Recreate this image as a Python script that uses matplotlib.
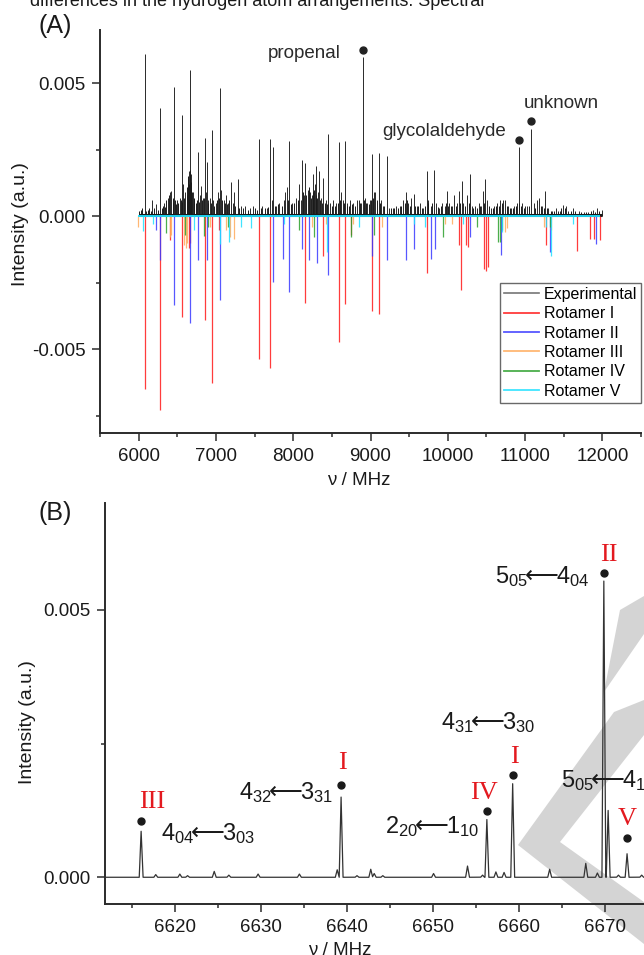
import numpy as np
import matplotlib
matplotlib.use('Agg')
import matplotlib.pyplot as plt
from matplotlib.lines import Line2D
from matplotlib.patches import Polygon
from matplotlib.ticker import MultipleLocator, FixedLocator

plt.rcParams['font.family'] = ['Liberation Sans', 'DejaVu Sans']
plt.rcParams['mathtext.fontset'] = 'custom'
plt.rcParams['mathtext.rm'] = 'Liberation Sans'
plt.rcParams['mathtext.it'] = 'Liberation Sans:italic'
plt.rcParams['mathtext.bf'] = 'Liberation Sans:bold'
plt.rcParams['mathtext.sf'] = 'DejaVu Sans'
plt.rcParams['axes.unicode_minus'] = False

# ---------------- Panel A data ----------------
exp_freq = [6078, 6177, 6229, 6280, 6330, 6380, 6410, 6425, 6461, 6500, 6530, 6556, 6574, 6600,
            6620, 6640, 6650, 6660, 6668, 6680, 6700, 6720, 6771, 6790, 6806, 6830, 6858, 6870,
            6884, 6900, 6920, 6944, 6960, 7000, 7030, 7056, 7070, 7100, 7133, 7160, 7193, 7215,
            7236, 7284, 7320, 7380, 7440, 7480, 7559, 7600, 7660, 7701, 7720, 7744, 7780, 7820,
            7880, 7900, 7917, 7951, 7990, 8040, 8080, 8100, 8115, 8140, 8158, 8190, 8215, 8240,
            8261, 8280, 8300, 8320, 8331, 8360, 8390, 8420, 8451, 8480, 8520, 8560, 8597, 8620,
            8640, 8674, 8700, 8740, 8780, 8820, 8850, 8880, 8907, 8930, 8960, 8990, 9015, 9040,
            9060, 9106, 9130, 9160, 9213, 9240, 9290, 9335, 9380, 9420, 9455, 9490, 9530, 9558,
            9600, 9635, 9680, 9726, 9750, 9780, 9824, 9850, 9880, 9930, 9960, 9988, 10020, 10060,
            10083, 10120, 10143, 10178, 10200, 10246, 10285, 10310, 10350, 10400, 10430, 10454,
            10484, 10510, 10560, 10600, 10640, 10680, 10720, 10746, 10780, 10820, 10860, 10900,
            10927, 10960, 11000, 11030, 11082, 11110, 11150, 11177, 11220, 11263, 11300, 11350,
            11400, 11450, 11496, 11530, 11560, 11620, 11700, 11760, 11820, 11880, 11930, 11990]
exp_int = [0.00608, 0.00060, 0.00045, 0.00408, 0.00050, 0.00070, 0.00091, 0.00095, 0.00485, 0.00060,
           0.00070, 0.00379, 0.00120, 0.00090, 0.00080, 0.00140, 0.00170, 0.00175, 0.00548, 0.00160,
           0.00090, 0.00060, 0.00241, 0.00080, 0.00114, 0.00070, 0.00295, 0.00090, 0.00202, 0.00060,
           0.00070, 0.00325, 0.00060, 0.00050, 0.00090, 0.00481, 0.00100, 0.00060, 0.00080, 0.00050,
           0.00129, 0.00050, 0.00090, 0.00140, 0.00040, 0.00040, 0.00030, 0.00040, 0.00291, 0.00040,
           0.00030, 0.00291, 0.00060, 0.00262, 0.00040, 0.00050, 0.00060, 0.00090, 0.00110, 0.00283,
           0.00050, 0.00070, 0.00120, 0.00060, 0.00213, 0.00080, 0.00201, 0.00100, 0.00090, 0.00080,
           0.00160, 0.00120, 0.00188, 0.00090, 0.00170, 0.00070, 0.00145, 0.00060, 0.00310, 0.00050,
           0.00060, 0.00050, 0.00279, 0.00090, 0.00060, 0.00281, 0.00050, 0.00060, 0.00050, 0.00060,
           0.00060, 0.00050, 0.00598, 0.00070, 0.00050, 0.00060, 0.00235, 0.00090, 0.00090, 0.00238,
           0.00060, 0.00040, 0.00228, 0.00030, 0.00030, 0.00040, 0.00040, 0.00060, 0.00090, 0.00050,
           0.00070, 0.00083, 0.00040, 0.00050, 0.00030, 0.00169, 0.00060, 0.00040, 0.00175, 0.00050,
           0.00030, 0.00050, 0.00040, 0.00095, 0.00050, 0.00040, 0.00080, 0.00050, 0.00095, 0.00133,
           0.00050, 0.00080, 0.00158, 0.00040, 0.00040, 0.00050, 0.00040, 0.00095, 0.00139, 0.00060,
           0.00030, 0.00040, 0.00050, 0.00060, 0.00060, 0.00060, 0.00040, 0.00030, 0.00040, 0.00050,
           0.00262, 0.00050, 0.00040, 0.00040, 0.00329, 0.00050, 0.00060, 0.00068, 0.00040, 0.00095,
           0.00030, 0.00020, 0.00030, 0.00020, 0.00044, 0.00040, 0.00020, 0.00030, 0.00020, 0.00015,
           0.00015, 0.00025, 0.00030, 0.00025]

exp_small_freq = [6010, 6030, 6045, 6100, 6120, 6140, 6160, 6200, 6250, 6300, 6315, 6345, 6360, 6395,
                  6440, 6450, 6470, 6485, 6515, 6545, 6565, 6585, 6630, 6645, 6655, 6675, 6690, 6710,
                  6740, 6760, 6780, 6815, 6845, 6895, 6930, 6975, 7015, 7045, 7080, 7115, 7145, 7175,
                  7250, 7300, 7350, 7410, 7500, 7530, 7580, 7630, 7680, 7760, 7800, 7850, 7930, 7970,
                  8010, 8060, 8130, 8170, 8200, 8230, 8250, 8270, 8290, 8310, 8345, 8370, 8405, 8440,
                  8500, 8540, 8580, 8610, 8655, 8690, 8720, 8760, 8800, 8870, 8920, 8945, 8975, 9000,
                  9030, 9080, 9120, 9180, 9260, 9310, 9360, 9400, 9440, 9470, 9510, 9580, 9620, 9660,
                  9700, 9740, 9800, 9870, 9910, 9975, 10000, 10040, 10100, 10160, 10220, 10270, 10330,
                  10380, 10420, 10470, 10530, 10580, 10620, 10660, 10700, 10760, 10800, 10840, 10880,
                  10915, 10945, 10980, 11050, 11130, 11200, 11240, 11280, 11330, 11380, 11430, 11470,
                  11520, 11600, 11650, 11730, 11790, 11850, 11910, 11960]
exp_small_int = [0.00020, 0.00025, 0.00030, 0.00020, 0.00025, 0.00030, 0.00020, 0.00030, 0.00025,
                 0.00030, 0.00040, 0.00035, 0.00060, 0.00080, 0.00050, 0.00070, 0.00060, 0.00045,
                 0.00050, 0.00060, 0.00055, 0.00070, 0.00110, 0.00150, 0.00120, 0.00130, 0.00090,
                 0.00070, 0.00050, 0.00060, 0.00055, 0.00060, 0.00070, 0.00050, 0.00050, 0.00040,
                 0.00060, 0.00070, 0.00060, 0.00050, 0.00045, 0.00060, 0.00040, 0.00030, 0.00030,
                 0.00025, 0.00030, 0.00025, 0.00030, 0.00030, 0.00035, 0.00040, 0.00045, 0.00040,
                 0.00060, 0.00045, 0.00050, 0.00060, 0.00090, 0.00080, 0.00110, 0.00070, 0.00090,
                 0.00100, 0.00080, 0.00070, 0.00060, 0.00050, 0.00050, 0.00045, 0.00040, 0.00040,
                 0.00050, 0.00060, 0.00050, 0.00040, 0.00040, 0.00045, 0.00040, 0.00050, 0.00060,
                 0.00050, 0.00045, 0.00060, 0.00070, 0.00060, 0.00050, 0.00040, 0.00030, 0.00030,
                 0.00030, 0.00040, 0.00050, 0.00060, 0.00040, 0.00040, 0.00040, 0.00030, 0.00040,
                 0.00050, 0.00050, 0.00035, 0.00040, 0.00050, 0.00040, 0.00040, 0.00040, 0.00050,
                 0.00040, 0.00050, 0.00030, 0.00030, 0.00040, 0.00050, 0.00040, 0.00030, 0.00040,
                 0.00040, 0.00050, 0.00040, 0.00030, 0.00030, 0.00040, 0.00050, 0.00040, 0.00030,
                 0.00040, 0.00030, 0.00040, 0.00030, 0.00030, 0.00020, 0.00020, 0.00020, 0.00030,
                 0.00030, 0.00020, 0.00020, 0.00015, 0.00015, 0.00020, 0.00015, 0.00020]

rot1_freq = [6078, 6280, 6401, 6556, 6651, 6670, 6858, 6944, 7040, 7555, 7701, 8149, 8382, 8589,
             8674, 8752, 9019, 9106, 9726, 10149, 10174, 10230, 10265, 10472, 10500, 10525, 11268,
             11673, 11837, 11890, 11974]
rot1_int = [-0.00648, -0.00729, -0.00090, -0.00379, -0.00120, -0.00100, -0.00389, -0.00627, -0.00050,
            -0.00537, -0.00572, -0.00327, -0.00150, -0.00472, -0.00331, -0.00070, -0.00356, -0.00366,
            -0.00214, -0.00110, -0.00276, -0.00110, -0.00116, -0.00197, -0.00205, -0.00190, -0.00110,
            -0.00131, -0.00085, -0.00085, -0.00088]

rot2_freq = [6229, 6280, 6461, 6668, 6771, 6884, 7056, 7744, 7873, 7951, 8115, 8201, 8308, 8451,
             9015, 9209, 9459, 9562, 9786, 9829, 10285, 10690, 11320, 11914]
rot2_int = [-0.00050, -0.00166, -0.00333, -0.00401, -0.00166, -0.00166, -0.00316, -0.00248, -0.00161,
            -0.00285, -0.00123, -0.00166, -0.00176, -0.00220, -0.00151, -0.00166, -0.00166, -0.00124,
            -0.00161, -0.00125, -0.00080, -0.00145, -0.00135, -0.00105]

rot3_freq = [5996, 6400, 6420, 6590, 6610, 6620, 6920, 7124, 7185, 7236, 8240, 8420, 8780, 9150,
             9960, 10050, 10739, 10760, 11250, 11330]
rot3_int = [-0.00041, -0.00080, -0.00070, -0.00110, -0.00120, -0.00100, -0.00040, -0.00050, -0.00080,
            -0.00085, -0.00040, -0.00030, -0.00030, -0.00040, -0.00030, -0.00030, -0.00060, -0.00045,
            -0.00040, -0.00050]

rot4_freq = [6358, 6600, 6849, 6900, 7150, 8072, 8273, 8752, 9045, 9941, 10380, 10648, 10674, 10700,
             11320]
rot4_int = [-0.00064, -0.00070, -0.00075, -0.00040, -0.00040, -0.00050, -0.00080, -0.00080, -0.00070,
            -0.00078, -0.00040, -0.00098, -0.00098, -0.00050, -0.00040]

rot5_freq = [6057, 6180, 6720, 7047, 7168, 7330, 7460, 7880, 8434, 8850, 9560, 9700, 10200, 10700,
             11270, 11330, 11620]
rot5_int = [-0.00054, -0.00030, -0.00050, -0.00105, -0.00098, -0.00040, -0.00045, -0.00030, -0.00135,
            -0.00040, -0.00030, -0.00040, -0.00030, -0.00060, -0.00040, -0.00150, -0.00030]

series_names = ['Experimental', 'Rotamer I', 'Rotamer II', 'Rotamer III', 'Rotamer IV', 'Rotamer V']
series_colors = ['#1a1a1a', '#ff1a1a', '#3a3aff', '#ffab5c', '#2ca02c', '#1fe0ff']

annA_names = ['propenal', 'glycolaldehyde', 'unknown']
annA_dot_x = [8907, 10923, 11083]
annA_dot_y = [0.00626, 0.00288, 0.00359]
annA_txt_x = [8615, 10751, 11470]
annA_txt_y = [0.00596, 0.00300, 0.00405]
annA_txt_ha = ['right', 'right', 'center']

# ---------------- Panel B data ----------------
b_peak_freq = [6616.1, 6617.8, 6620.6, 6621.5, 6624.6, 6626.3, 6629.7, 6634.5, 6638.9, 6639.35,
               6641.2, 6642.8, 6643.2, 6644.2, 6650.1, 6654.05, 6655.8, 6656.3, 6657.35, 6658.3,
               6659.3, 6663.6, 6667.8, 6669.15, 6669.9, 6670.4, 6671.6, 6672.6, 6674.3]
b_peak_int = [0.00086, 0.00005, 0.00006, 0.00003, 0.00011, 0.00004, 0.00006, 0.00006, 0.00014,
              0.00150, 0.00003, 0.00015, 0.00007, 0.00003, 0.00007, 0.00021, 0.00004, 0.00108,
              0.00010, 0.00009, 0.00175, 0.00015, 0.00026, 0.00008, 0.00554, 0.00125, 0.00004,
              0.00044, 0.00004]

b_rot_labels = ['III', 'I', 'IV', 'I', 'II', 'V']
b_rot_x = [6617.36, 6639.5, 6656.0, 6659.5, 6670.5, 6672.6]
b_rot_y = [0.00129, 0.00203, 0.00147, 0.00213, 0.00592, 0.00097]
b_dot_x = [6616.1, 6639.35, 6656.3, 6659.3, 6669.9, 6672.6]
b_dot_y = [0.00106, 0.00172, 0.00124, 0.00192, 0.00569, 0.00074]

b_trans_labels = [r'$\mathregular{4_{04}}\!\!\mathsf{\longleftarrow}\!\!\mathregular{3_{03}}$',
                  r'$\mathregular{4_{32}}\!\!\mathsf{\longleftarrow}\!\!\mathregular{3_{31}}$',
                  r'$\mathregular{4_{31}}\!\!\mathsf{\longleftarrow}\!\!\mathregular{3_{30}}$',
                  r'$\mathregular{2_{20}}\!\!\mathsf{\longleftarrow}\!\!\mathregular{1_{10}}$',
                  r'$\mathregular{5_{05}}\!\!\mathsf{\longleftarrow}\!\!\mathregular{4_{04}}$',
                  r'$\mathregular{5_{05}}\!\!\mathsf{\longleftarrow}\!\!\mathregular{4_{14}}$']
b_trans_x = [6618.4, 6638.45, 6651.0, 6655.4, 6668.2, 6664.9]
b_trans_y = [0.00069, 0.00147, 0.00278, 0.00082, 0.00550, 0.00168]
b_trans_ha = ['left', 'right', 'left', 'right', 'right', 'left']

# ---------------- Figure ----------------
W, H = 644, 955
fig = plt.figure(figsize=(W / 100, H / 100), dpi=100)


def fx(px):
    return px / W


def fy(py):
    return 1 - py / H


axA = fig.add_axes([fx(100), fy(433), (641 - 100) / W, (433 - 30) / H])
axB = fig.add_axes([fx(105), fy(904), (690.7 - 105) / W, (904 - 503) / H])

spine_col = '#2b2b2b'
for ax in (axA, axB):
    for s in ('top', 'right'):
        ax.spines[s].set_visible(False)
    for s in ('left', 'bottom'):
        ax.spines[s].set_linewidth(1.4)
        ax.spines[s].set_color(spine_col)
    ax.tick_params(which='major', direction='out', length=6, width=1.1, color=spine_col,
                   labelsize=13.5, pad=4.5, labelcolor='#1a1a1a')
    ax.tick_params(which='minor', direction='out', length=3, width=1.1, color=spine_col)

# Watermark (background decoration in panel B)
wm_col = '#d4d4d4'
wm_shapes = [
    [(620, 610), (644, 596), (644, 634), (604, 692)],
    [(518, 845), (614, 712), (644, 700), (644, 735), (560, 842), (644, 902), (644, 944)],
]
for shp in wm_shapes:
    poly = Polygon([(fx(a), fy(b)) for a, b in shp], closed=True, transform=fig.transFigure,
                   facecolor=wm_col, edgecolor='none', zorder=0, clip_on=False)
    axB.add_patch(poly)

# ---- Panel A ----
axA.hlines(0.00005, min(exp_small_freq), max(exp_freq), color=series_colors[0], lw=2.2, zorder=2)
axA.vlines(exp_small_freq, 0, exp_small_int, color=series_colors[0], lw=0.7, zorder=2)
axA.vlines(exp_freq, 0, exp_int, color=series_colors[0], lw=0.65, zorder=2)
rot_data = [(rot1_freq, rot1_int), (rot2_freq, rot2_int), (rot3_freq, rot3_int),
            (rot4_freq, rot4_int), (rot5_freq, rot5_int)]
for (f, v), c in zip(rot_data, series_colors[1:]):
    axA.vlines(f, 0, v, color=c, lw=0.9, alpha=0.85, zorder=3)
axA.hlines(0, min(rot3_freq), max(rot1_freq), color=series_colors[5], lw=1.3, zorder=4)

axA.set_xlim(5500, 12500)
axA.set_ylim(-0.00815, 0.007)
axA.xaxis.set_major_locator(MultipleLocator(1000))
axA.xaxis.set_minor_locator(MultipleLocator(500))
axA.yaxis.set_major_locator(FixedLocator([-0.005, 0.0, 0.005]))
axA.yaxis.set_minor_locator(FixedLocator([-0.0075, -0.0025, 0.0025]))
axA.set_yticklabels(['-0.005', '0.000', '0.005'])

axA.plot(annA_dot_x, annA_dot_y, 'o', color='#222222', ms=5, zorder=5, clip_on=False)
for name, x, y, ha in zip(annA_names, annA_txt_x, annA_txt_y, annA_txt_ha):
    axA.text(x, y, name, ha=ha, va='baseline', fontsize=13.5, color='#2a2a2a')

handles = [Line2D([0], [0], color=c, lw=1.2 if i == 0 else 1.3, alpha=0.6 if i == 0 else 0.85)
           for i, c in enumerate(series_colors)]
leg = axA.legend(handles, series_names, loc='upper left',
                 bbox_to_anchor=(fx(500), fy(283)), bbox_transform=fig.transFigure,
                 fontsize=11.5, frameon=True, fancybox=False, borderaxespad=0, borderpad=0.25,
                 handlelength=2.2, handletextpad=0.3, labelspacing=0.27)
leg.get_frame().set_edgecolor('#444444')
leg.get_frame().set_linewidth(1.0)

axA.set_xlabel('ν / MHz', fontsize=13.5, color='#1a1a1a')
axA.xaxis.set_label_coords(0.479, -0.097)
axA.set_ylabel('Intensity (a.u.)', fontsize=14, color='#1a1a1a')
axA.yaxis.label.set_va('center')
axA.yaxis.set_label_coords((20.5 - 100) / 541, (433 - 224) / 403)

# ---- Panel B ----
grid = np.linspace(6612, 6681, 6901)
spec = np.zeros_like(grid)
half_w = 0.22
for f0, h0 in zip(b_peak_freq, b_peak_int):
    spec = np.maximum(spec, h0 * np.clip(1 - np.abs(grid - f0) / half_w, 0, None))
axB.plot(grid, spec, color='#333333', lw=0.9, zorder=3)

axB.set_xlim(6611.9, 6680)
axB.set_ylim(-0.0005, 0.007)
axB.xaxis.set_major_locator(MultipleLocator(10))
axB.xaxis.set_minor_locator(MultipleLocator(5))
axB.yaxis.set_major_locator(FixedLocator([0.0, 0.005]))
axB.yaxis.set_minor_locator(FixedLocator([0.0025]))
axB.set_yticklabels(['0.000', '0.005'])

axB.plot(b_dot_x, b_dot_y, 'o', color='#1a1a1a', ms=5, zorder=5)
for lab, x, y in zip(b_rot_labels, b_rot_x, b_rot_y):
    axB.text(x, y, lab, ha='center', va='baseline', fontsize=19, color='#e3191f',
             family=['Liberation Serif', 'DejaVu Serif'], zorder=6)
for lab, x, y, ha in zip(b_trans_labels, b_trans_x, b_trans_y, b_trans_ha):
    axB.text(x, y, lab, ha=ha, va='baseline', fontsize=17, color='#1a1a1a', zorder=6)

axB.set_xlabel('ν / MHz', fontsize=13.5, color='#1a1a1a')
axB.xaxis.set_label_coords((340 - 105) / 585.7, -0.094)
axB.set_ylabel('Intensity (a.u.)', fontsize=14, color='#1a1a1a')
axB.yaxis.label.set_va('center')
axB.yaxis.set_label_coords((28 - 105) / 585.7, (904 - 722) / 401)

# Panel letters and the cut-off caption line above
fig.text(fx(39), fy(26), '(A)', fontsize=18, ha='left', va='center', color='#1a1a1a')
fig.text(fx(39), fy(513), '(B)', fontsize=18, ha='left', va='center', color='#1a1a1a')
fig.text(fx(30), fy(6), 'differences in the hydrogen atom arrangements. Spectral',
         fontsize=13, ha='left', va='baseline', color='#1a1a1a')

fig.savefig('out.png', dpi=100)
